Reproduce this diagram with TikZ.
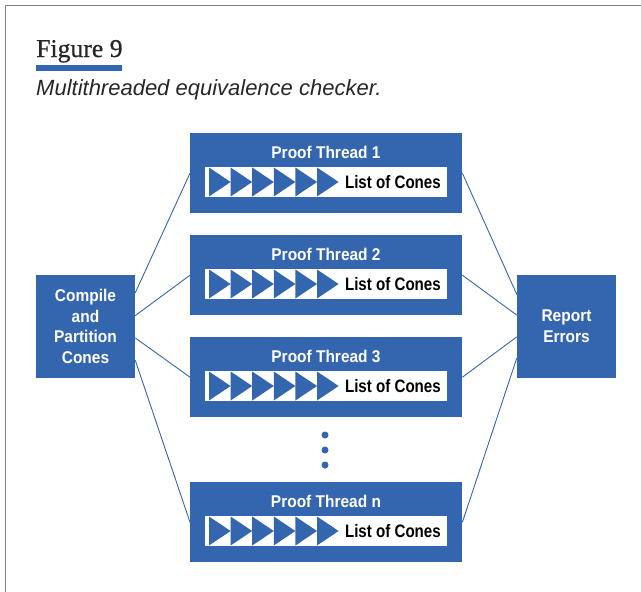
\documentclass[tikz,border=0pt]{standalone}
\usepackage{fontspec}
\setmainfont{Liberation Serif}
\newfontfamily\headfont[FakeBold=0.7]{Liberation Serif}
\newfontfamily\capfont{Liberation Sans}
\newfontfamily\boxfont[FakeStretch=0.91]{Liberation Sans Bold}
\newfontfamily\listfont[FakeStretch=0.84]{Liberation Sans Bold}
\usetikzlibrary{calc}
\definecolor{hpblue}{RGB}{52,101,175}
\definecolor{framegray}{RGB}{128,128,128}
\tikzset{
  boxstyle/.style={fill=hpblue, draw=none, text=white, inner sep=0pt, align=center,
    font=\boxfont\fontsize{17}{20.8}\selectfont},
  stripstyle/.style={fill=white, draw=none, inner sep=0pt, minimum width=242pt,
    minimum height=30pt, anchor=north west},
  listlabel/.style={anchor=base east, inner sep=0pt, text=black,
    font=\listfont\fontsize{18}{21}\selectfont},
  threadlabel/.style={anchor=base, inner sep=0pt, text=white,
    font=\boxfont\fontsize{17}{21}\selectfont},
  conn/.style={draw=hpblue, line width=0.9pt},
  dotstyle/.style={circle, fill=hpblue, draw=none, inner sep=0pt, minimum size=7pt}
}
\begin{document}
\begin{tikzpicture}[x=1pt,y=-1pt]
\useasboundingbox (0,0) rectangle (641,592);
% page frame
\draw[framegray, line width=1.6pt] (5.5,592) -- (5.5,5.5) -- (641,5.5);

% heading
\node[anchor=base west, inner sep=0pt, text=black!85] (title) at (36,57)
  {\headfont\fontsize{25.7}{30}\selectfont Figure 9};
\fill[hpblue] (36,65) rectangle (122,71);
\node[anchor=base west, inner sep=0pt, text=black!85] (subtitle) at (36,95)
  {\capfont\itshape\fontsize{22}{26}\selectfont Multithreaded equivalence checker.};

% side boxes
\node[boxstyle, minimum width=99pt, minimum height=103pt] (cmp) at (85.5,326.5)
  {Compile\\and\\Partition\\Cones};
\node[boxstyle, minimum width=99pt, minimum height=103pt] (rep) at (566.5,326.5)
  {Report\\Errors};

% proof threads
\foreach \i/\ty in {1/133, 2/235, 3/337, n/482} {
  \node[boxstyle, minimum width=272pt, minimum height=80pt, anchor=north west]
    (th\i) at (190,\ty) {};
  \node[threadlabel] (thl\i) at (326,\ty+25) {Proof Thread \i};
  \node[stripstyle] (strip\i) at (205,\ty+34) {};
  \foreach \k in {0,...,5}
    \fill[hpblue] ({209+21.6*\k},\ty+34.5) -- ({230.6+21.6*\k},\ty+49)
      -- ({209+21.6*\k},\ty+63.5) -- cycle;
  \node[listlabel] (list\i) at (441,\ty+55) {List of Cones};
}

% ellipsis between thread 3 and thread n
\node[dotstyle] (d1) at (325,435) {};
\node[dotstyle] (d2) at (325,450) {};
\node[dotstyle] (d3) at (325,465) {};

% fan-out and fan-in connectors
\foreach \i/\f in {1/0.175, 2/0.395, 3/0.61, n/0.825}
  \draw[conn] ($(cmp.north east)!\f!(cmp.south east)$) -- (th\i.west);
\foreach \i/\f in {1/0.19, 2/0.39, 3/0.6, n/0.805}
  \draw[conn] (th\i.east) -- ($(rep.north west)!\f!(rep.south west)$);
\end{tikzpicture}
\end{document}
